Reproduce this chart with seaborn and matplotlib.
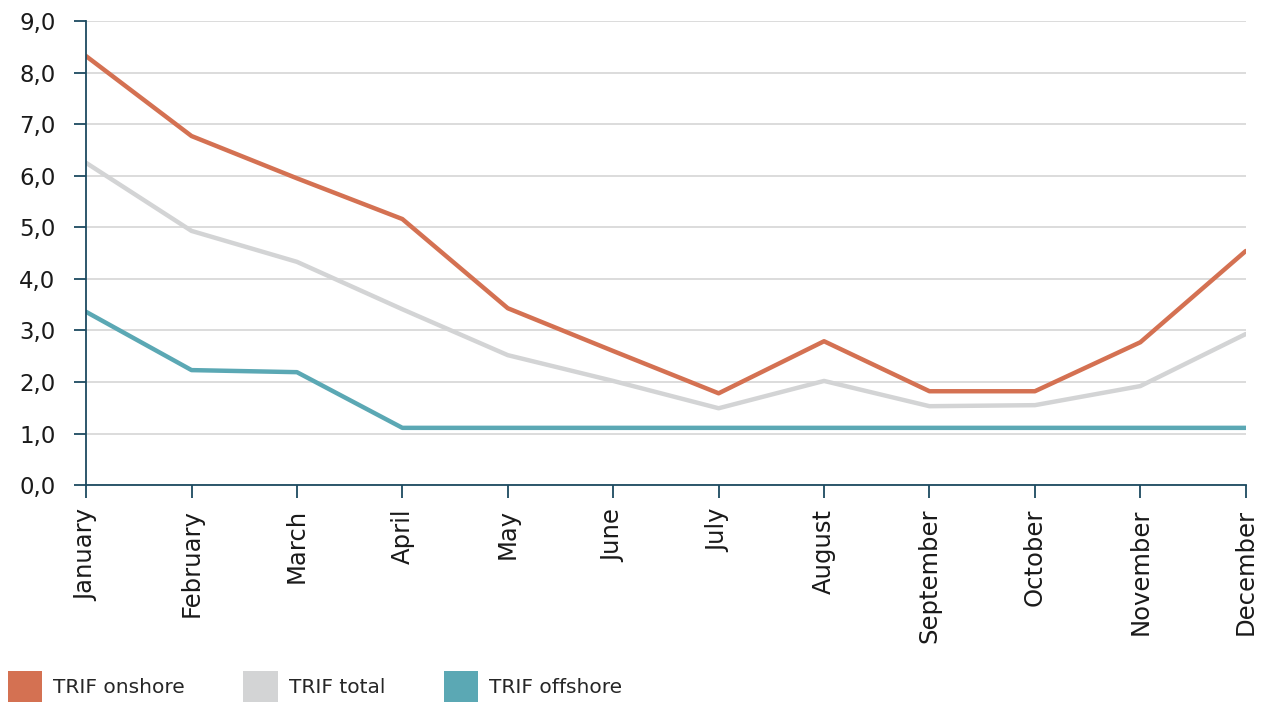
import seaborn as sns
import pandas as pd
import matplotlib.pyplot as plt
from matplotlib.patches import Patch
from matplotlib.ticker import FuncFormatter

months = ["January", "February", "March", "April", "May", "June", "July",
          "August", "September", "October", "November", "December"]
trif_onshore = [8.32, 6.77, 5.95, 5.16, 3.43, 2.60, 1.78, 2.79, 1.82, 1.82, 2.77, 4.54]
trif_total = [6.25, 4.93, 4.33, 3.41, 2.52, 2.02, 1.49, 2.02, 1.53, 1.55, 1.92, 2.93]
trif_offshore = [3.36, 2.23, 2.19, 1.11, 1.11, 1.11, 1.11, 1.11, 1.11, 1.11, 1.11, 1.11]

series = ["TRIF onshore", "TRIF total", "TRIF offshore"]
colors = ["#d47152", "#d3d4d5", "#5ba8b4"]

df = pd.DataFrame({"month": months * 3,
                   "value": trif_onshore + trif_total + trif_offshore,
                   "series": [s for s in series for _ in months]})
df["x"] = [i for _ in series for i in range(len(months))]

sns.set_style("white")
plt.rcParams["font.family"] = ["DejaVu Sans"]

fig = plt.figure(figsize=(12.66, 7.02), dpi=100)
ax = fig.add_axes([0.068, 0.309, 0.916, 0.661])

sns.lineplot(data=df, x="x", y="value", hue="series", hue_order=series,
             palette=colors, linewidth=3.2, legend=False, ax=ax)

navy = "#1c4a60"
ax.set_xlim(0, 11)
ax.set_ylim(0, 9)
ax.set_yticks(range(10))
ax.yaxis.set_major_formatter(FuncFormatter(lambda v, p: f"{v:.1f}".replace(".", ",")))
ax.set_xticks(range(len(months)))
ax.set_xticklabels(months, rotation=90)
ax.grid(axis="y", color="#d9d9d9", linewidth=1.3)
ax.set_axisbelow(True)
for s in ["top", "right"]:
    ax.spines[s].set_visible(False)
for s in ["left", "bottom"]:
    ax.spines[s].set_color(navy)
    ax.spines[s].set_linewidth(1.3)
ax.tick_params(axis="both", direction="out", length=9, width=1.3, color=navy,
               labelcolor="#1a1a1a", bottom=True, left=True)
ax.tick_params(axis="y", labelsize=16.5, pad=13)
ax.tick_params(axis="x", labelsize=17.5, pad=8)
ax.set_xlabel("")
ax.set_ylabel("")

handles = [Patch(facecolor=c, edgecolor="none") for c in colors]
fig.legend(handles, series, loc="lower left", bbox_to_anchor=(0.0063, 0.0), ncol=3,
           frameon=False, fontsize=14.5, handlelength=1.7, handleheight=2.0,
           handletextpad=0.55, columnspacing=2.9, borderpad=0.0, borderaxespad=0.0)

fig.savefig("out.png", dpi=100)
